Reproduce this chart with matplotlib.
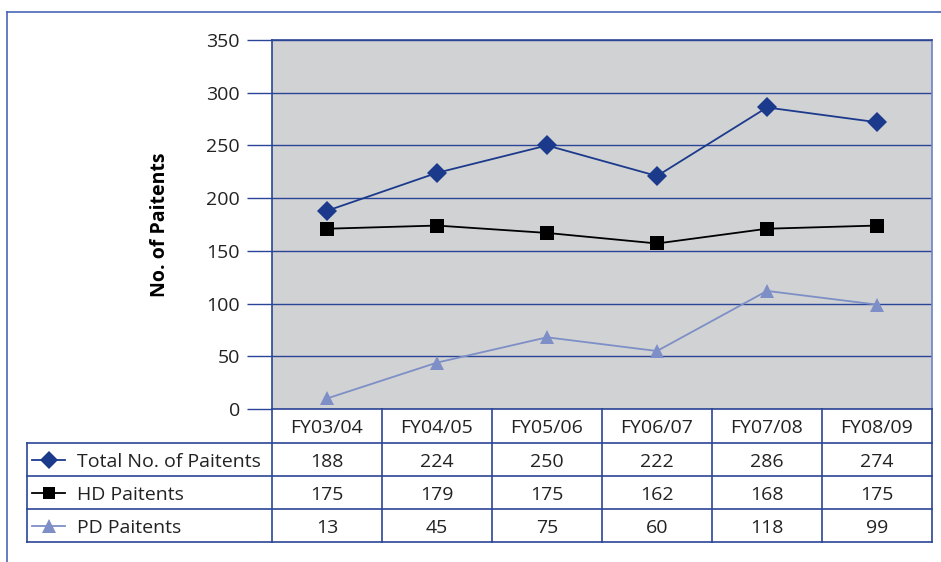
import matplotlib.pyplot as plt
from matplotlib.lines import Line2D

plt.rcParams['font.family'] = ['Open Sans', 'DejaVu Sans']

years = ['FY03/04', 'FY04/05', 'FY05/06', 'FY06/07', 'FY07/08', 'FY08/09']
series_names = ['Total No. of Paitents', 'HD Paitents', 'PD Paitents']

# plotted positions (as drawn in the chart)
total_plot = [188, 224, 250, 221, 286, 272]
hd_plot = [171, 174, 167, 157, 171, 174]
pd_plot = [10, 44, 68, 55, 112, 99]

# values printed in the data table
total_tab = [188, 224, 250, 222, 286, 274]
hd_tab = [175, 179, 175, 162, 168, 175]
pd_tab = [13, 45, 75, 60, 118, 99]

W, H = 941, 562
fig = plt.figure(figsize=(W / 100, H / 100), dpi=100)

def fx(x):
    return x / W

def fy(y):
    return 1 - y / H

blue = '#2b4596'
frame_blue = '#4a67b5'
txt = '#222222'
fs = 14
styles = [
    dict(color='#1b3a8c', marker='D', markersize=10),
    dict(color='black', marker='s', markersize=9.5),
    dict(color='#7d8fc6', marker='^', markersize=10),
]

# outer frame (top and left)
fig.add_artist(Line2D([fx(7), 1], [fy(12), fy(12)], color=frame_blue, lw=1.2))
fig.add_artist(Line2D([fx(7), fx(7)], [fy(12), 0], color=frame_blue, lw=1.2))

left, right, top, bottom = 272, 932, 40, 409
ax = fig.add_axes([fx(left), fy(bottom), fx(right - left), fy(top) - fy(bottom)])
ax.set_facecolor('#d1d2d4')
ax.set_xlim(-0.5, len(years) - 0.5)
ax.set_ylim(0, 350)
ax.set_yticks(range(0, 351, 50))
ax.grid(axis='y', color=blue, lw=1.0)
ax.set_axisbelow(True)
ax.set_xticks([])
ax.tick_params(axis='y', length=18, width=1.0, color=blue, labelsize=fs,
               labelcolor=txt, pad=5)
for s in ax.spines.values():
    s.set_color(blue)
    s.set_linewidth(1.2)
ax.spines['right'].set_color('#6b83c4')
ax.set_ylabel('No. of Paitents', fontsize=fs, fontweight='bold', color='black',
              labelpad=26)

x = range(len(years))
for vals, st in zip([total_plot, hd_plot, pd_plot], styles):
    ax.plot(x, vals, lw=1.3, color=st['color'], marker=st['marker'],
            markersize=st['markersize'], markeredgewidth=0)

# data table
col_w = (right - left) / len(years)
rows_y = [409, 443, 476, 509, 542]
tab_left = 27

for i in range(len(years) + 1):
    xx = left + i * col_w
    fig.add_artist(Line2D([fx(xx), fx(xx)], [fy(409), fy(542)], color=blue, lw=1.2))
fig.add_artist(Line2D([fx(tab_left), fx(tab_left)], [fy(443), fy(542)], color=blue, lw=1.2))
for yy in rows_y[1:]:
    fig.add_artist(Line2D([fx(tab_left), fx(right)], [fy(yy), fy(yy)], color=blue, lw=1.2))

for i, yr in enumerate(years):
    fig.text(fx(left + (i + 0.5) * col_w), fy((rows_y[0] + rows_y[1]) / 2 + 2), yr,
             ha='center', va='center', fontsize=fs, color=txt)

for r, (name, vals, st) in enumerate(zip(series_names, [total_tab, hd_tab, pd_tab], styles)):
    yc = fy((rows_y[r + 1] + rows_y[r + 2]) / 2)
    yt = fy((rows_y[r + 1] + rows_y[r + 2]) / 2 + 2.5)
    fig.add_artist(Line2D([fx(32), fx(65)], [yc, yc], color=st['color'], lw=1.3))
    fig.add_artist(Line2D([fx(48.5)], [yc], color=st['color'], marker=st['marker'],
                          markersize=st['markersize'] - 0.5, markeredgewidth=0))
    fig.text(fx(77), yt, name, ha='left', va='center', fontsize=fs, color=txt)
    for i, v in enumerate(vals):
        fig.text(fx(left + (i + 0.5) * col_w), yt, str(v), ha='center', va='center',
                 fontsize=fs, color=txt)

fig.savefig('out.png', dpi=100)
